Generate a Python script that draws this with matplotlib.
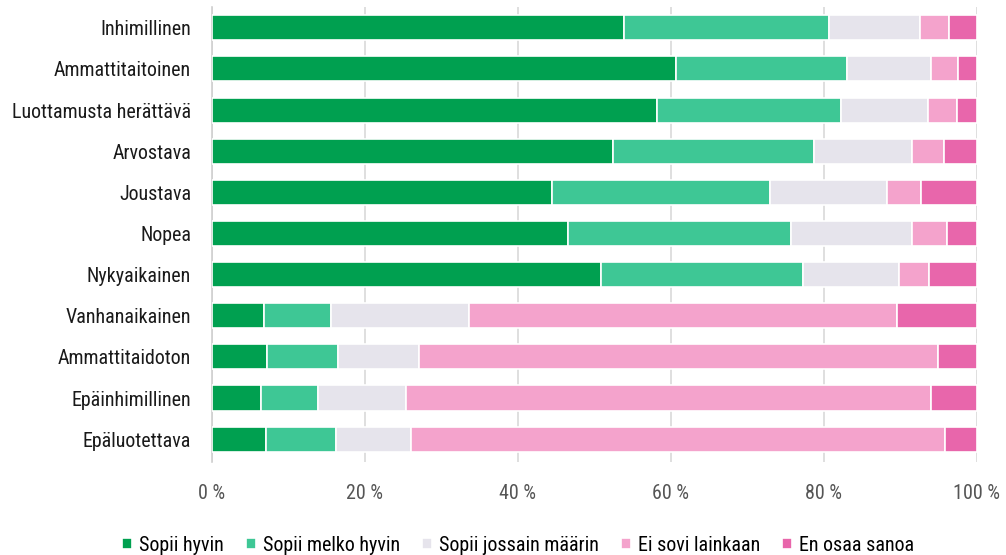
import matplotlib.pyplot as plt
import numpy as np

plt.rcParams["font.family"] = ["Roboto Condensed", "Liberation Sans", "DejaVu Sans"]

# Data (percent shares)
categories = [
    "Inhimillinen",
    "Ammattitaitoinen",
    "Luottamusta herättävä",
    "Arvostava",
    "Joustava",
    "Nopea",
    "Nykyaikainen",
    "Vanhanaikainen",
    "Ammattitaidoton",
    "Epäinhimillinen",
    "Epäluotettava",
]
sopii_hyvin = [53.9, 60.6, 58.2, 52.4, 44.5, 46.6, 50.9, 6.8, 7.2, 6.4, 7.0]
sopii_melko_hyvin = [26.7, 22.4, 24.0, 26.3, 28.4, 29.1, 26.4, 8.7, 9.3, 7.4, 9.2]
sopii_jossain = [11.9, 11.0, 11.4, 12.8, 15.4, 15.8, 12.5, 18.1, 10.6, 11.6, 9.8]
ei_sovi = [3.9, 3.5, 3.8, 4.2, 4.4, 4.6, 4.0, 56.0, 67.8, 68.6, 69.8]
en_osaa = [3.6, 2.5, 2.6, 4.3, 7.3, 3.9, 6.2, 10.4, 5.1, 6.0, 4.2]

series_names = ["Sopii hyvin", "Sopii melko hyvin", "Sopii jossain määrin",
                "Ei sovi lainkaan", "En osaa sanoa"]
series = [sopii_hyvin, sopii_melko_hyvin, sopii_jossain, ei_sovi, en_osaa]
colors = ["#00a050", "#3ec795", "#e6e4ec", "#f4a3cc", "#e866ab"]

fig = plt.figure(figsize=(10.06, 5.55), dpi=100)
ax = fig.add_axes([0.2107, 0.168, 0.7604, 0.819])

y = np.arange(len(categories))
left = np.zeros(len(categories))
for name, vals, col in zip(series_names, series, colors):
    ax.barh(y, vals, left=left, height=0.61, color=col, edgecolor="white",
            linewidth=1.2, label=name, zorder=3)
    left += np.array(vals)

ax.set_xlim(0, 100)
ax.set_ylim(len(categories) - 0.45, -0.5)
ax.set_yticks(y)
ax.set_yticklabels(categories, fontsize=14.4, color="#1a1a1a")
ax.set_xticks([0, 20, 40, 60, 80, 100])
ax.set_xticklabels(["0 %", "20 %", "40 %", "60 %", "80 %", "100 %"],
                   fontsize=14.4, color="#555555")
ax.tick_params(axis="both", length=0)
ax.tick_params(axis="x", pad=16)
ax.tick_params(axis="y", pad=15)

ax.grid(axis="x", color="#d9d9d9", linewidth=1.2, zorder=0)
for s in ["top", "right", "bottom"]:
    ax.spines[s].set_visible(False)
ax.spines["left"].set_color("#d0d0d0")
ax.spines["left"].set_linewidth(1.2)

fig.legend(loc="lower center", bbox_to_anchor=(0.515, -0.032), ncol=5,
           frameon=False, fontsize=14.4, handlelength=0.5, handleheight=0.5,
           handletextpad=0.35, columnspacing=1.1)

fig.savefig("out.png", dpi=100)
